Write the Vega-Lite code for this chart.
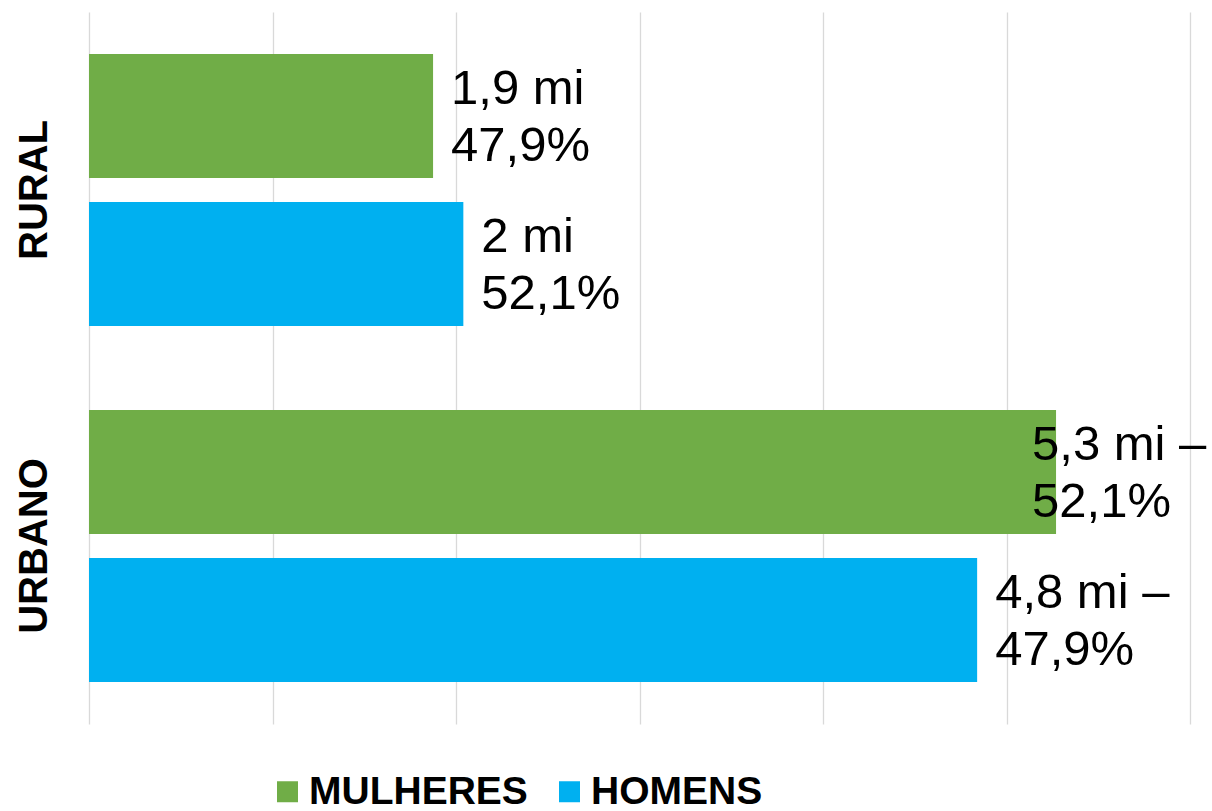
{
  "$schema": "https://vega.github.io/schema/vega-lite/v6.json",
  "autosize": "none",
  "width": 1101,
  "height": 712,
  "padding": {"left": 89, "top": 12, "right": 22, "bottom": 87},
  "background": "white",
  "config": {
    "view": {"stroke": null},
    "font": "Liberation Sans"
  },
  "data": {
    "values": [
      {"area": "RURAL", "sexo": "MULHERES", "valor": 1.875, "rotulo": "1,9 mi\n47,9%", "ajuste": "normal"},
      {"area": "RURAL", "sexo": "HOMENS", "valor": 2.04, "rotulo": "2 mi\n52,1%", "ajuste": "normal"},
      {"area": "URBANO", "sexo": "MULHERES", "valor": 5.27, "rotulo": "5,3 mi –\n52,1%", "ajuste": "dentro"},
      {"area": "URBANO", "sexo": "HOMENS", "valor": 4.84, "rotulo": "4,8 mi –\n47,9%", "ajuste": "normal"}
    ]
  },
  "encoding": {
    "y": {
      "field": "area", "type": "nominal", "sort": ["RURAL", "URBANO"],
      "scale": {"paddingInner": 0.236, "paddingOuter": 0.118},
      "axis": {
        "title": null, "domain": false, "ticks": false, "grid": false,
        "labelAngle": -90, "labelAlign": "center", "labelBaseline": "alphabetic",
        "labelPadding": 43, "labelFontSize": 40, "labelFontWeight": "bold",
        "labelColor": "#000000", "labelFont": "Liberation Sans"
      }
    },
    "yOffset": {
      "field": "sexo", "type": "nominal", "sort": ["MULHERES", "HOMENS"],
      "scale": {"paddingInner": 0.162, "paddingOuter": 0}
    },
    "x": {
      "field": "valor", "type": "quantitative",
      "scale": {"domain": [0, 6], "nice": false},
      "axis": {
        "title": null, "labels": false, "ticks": false, "domain": false,
        "values": [0, 1, 2, 3, 4, 5, 6], "grid": true,
        "gridColor": "#d9d9d9", "gridWidth": 1.3
      }
    }
  },
  "layer": [
    {
      "mark": {"type": "bar"},
      "encoding": {
        "color": {
          "field": "sexo", "type": "nominal",
          "scale": {"domain": ["MULHERES", "HOMENS"], "range": ["#70AD47", "#00B0F0"]},
          "legend": {
            "title": null, "orient": "none", "legendX": 179, "legendY": 760,
            "direction": "horizontal",
            "symbolType": "square", "symbolSize": 441, "symbolStrokeWidth": 0,
            "labelFontSize": 39, "labelFontWeight": "bold", "labelColor": "#000000",
            "labelFont": "Liberation Sans", "labelLimit": 0, "columnPadding": 22,
            "labelOffset": 2, "symbolOpacity": 1
          }
        }
      }
    },
    {
      "transform": [{"filter": "datum.ajuste === 'normal'"}],
      "mark": {
        "type": "text", "align": "left", "baseline": "middle", "dx": 18, "dy": -27,
        "fontSize": 49, "lineHeight": 57, "lineBreak": "\n", "color": "#000000",
        "font": "Liberation Sans"
      },
      "encoding": {"text": {"field": "rotulo"}}
    },
    {
      "transform": [{"filter": "datum.ajuste === 'dentro'"}],
      "mark": {
        "type": "text", "align": "left", "baseline": "middle", "dx": -24, "dy": -27,
        "fontSize": 49, "lineHeight": 57, "lineBreak": "\n", "color": "#000000",
        "font": "Liberation Sans"
      },
      "encoding": {"text": {"field": "rotulo"}}
    }
  ]
}
